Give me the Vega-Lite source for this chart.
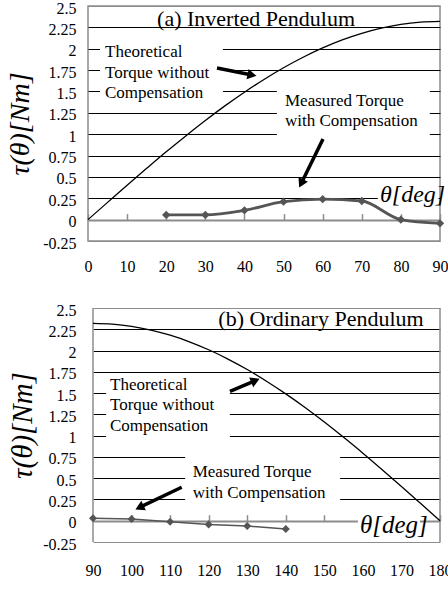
{
  "$schema": "https://vega.github.io/schema/vega-lite/v6.json",
  "padding": {"left": 5, "top": -1, "right": 0, "bottom": 0},
  "spacing": 26,
  "columns": 1,
  "datasets": {
    "theoA": [
      {"theta": 0, "torque": 0}, {"theta": 5, "torque": 0.202}, {"theta": 10, "torque": 0.403},
      {"theta": 15, "torque": 0.6}, {"theta": 20, "torque": 0.794}, {"theta": 25, "torque": 0.98},
      {"theta": 30, "torque": 1.16}, {"theta": 35, "torque": 1.331}, {"theta": 40, "torque": 1.491},
      {"theta": 45, "torque": 1.64}, {"theta": 50, "torque": 1.777}, {"theta": 55, "torque": 1.9},
      {"theta": 60, "torque": 2.009}, {"theta": 65, "torque": 2.103}, {"theta": 70, "torque": 2.18},
      {"theta": 75, "torque": 2.241}, {"theta": 80, "torque": 2.285}, {"theta": 85, "torque": 2.311},
      {"theta": 90, "torque": 2.32}
    ],
    "measA": [
      {"theta": 20, "torque": 0.055}, {"theta": 30, "torque": 0.055}, {"theta": 40, "torque": 0.109},
      {"theta": 50, "torque": 0.21}, {"theta": 60, "torque": 0.24}, {"theta": 70, "torque": 0.218},
      {"theta": 80, "torque": 0.0}, {"theta": 90, "torque": -0.043}
    ],
    "theoB": [
      {"theta": 90, "torque": 2.32}, {"theta": 95, "torque": 2.311}, {"theta": 100, "torque": 2.285},
      {"theta": 105, "torque": 2.241}, {"theta": 110, "torque": 2.18}, {"theta": 115, "torque": 2.103},
      {"theta": 120, "torque": 2.009}, {"theta": 125, "torque": 1.9}, {"theta": 130, "torque": 1.777},
      {"theta": 135, "torque": 1.64}, {"theta": 140, "torque": 1.491}, {"theta": 145, "torque": 1.331},
      {"theta": 150, "torque": 1.16}, {"theta": 155, "torque": 0.98}, {"theta": 160, "torque": 0.794},
      {"theta": 165, "torque": 0.6}, {"theta": 170, "torque": 0.403}, {"theta": 175, "torque": 0.202},
      {"theta": 180, "torque": 0}
    ],
    "measB": [
      {"theta": 90, "torque": 0.03}, {"theta": 100, "torque": 0.02}, {"theta": 110, "torque": -0.012},
      {"theta": 120, "torque": -0.043}, {"theta": 130, "torque": -0.063}, {"theta": 140, "torque": -0.097}
    ]
  },
  "concat": [
    {
      "width": 352,
      "height": 235,
      "layer": [
        {"data": {"values": [{}]}, "mark": {"type": "rect", "fill": "white"},
         "encoding": {"x": {"datum": 3.07}, "x2": {"datum": 34.5}, "y": {"datum": 1.4}, "y2": {"datum": 2.08}}},
        {"data": {"values": [{}]}, "mark": {"type": "rect", "fill": "white"},
         "encoding": {"x": {"datum": 48.3}, "x2": {"datum": 87.4}, "y": {"datum": 0.932}, "y2": {"datum": 1.587}}},
        {"data": {"values": [{}]}, "mark": {"type": "rect", "fill": "white"},
         "encoding": {"x": {"datum": 74.1}, "x2": {"datum": 89.6}, "y": {"datum": 0.101}, "y2": {"datum": 0.382}}},
        {
          "data": {"name": "theoA"},
          "mark": {"type": "line", "color": "black", "strokeWidth": 1.3, "interpolate": "monotone"},
          "encoding": {
            "x": {"field": "theta", "type": "quantitative",
                  "scale": {"domain": [0, 90], "nice": false, "zero": false},
                  "axis": {"values": [0, 10, 20, 30, 40, 50, 60, 70, 80, 90], "tickCount": 50, "labelExpr": "'' + datum.value", "title": null,
                           "domain": false, "grid": false, "ticks": true, "tickSize": -6, "tickColor": "#8c8c8c", "tickWidth": 1.5,
                           "offset": -21.36, "labelPadding": 45, "labelFontSize": 16, "labelFlush": false, "labelOverlap": false}},
            "y": {"field": "torque", "type": "quantitative",
                  "scale": {"domain": [-0.25, 2.5], "nice": false, "zero": false},
                  "axis": {"values": [-0.25, 0, 0.25, 0.5, 0.75, 1, 1.25, 1.5, 1.75, 2, 2.25, 2.5], "tickCount": 50, "labelExpr": "'' + datum.value",
                           "title": "τ(θ)[Nm]", "domain": false, "ticks": false, "labelPadding": 12, "grid": true, "labelOverlap": false, "labelOffset": 2,
                           "gridColor": {"condition": {"test": "datum.value === 0 || datum.value === -0.25 || datum.value === 2.5", "value": "#8c8c8c"}, "value": "black"},
                           "gridWidth": {"condition": {"test": "datum.value === 0", "value": 2}, "value": 1},
                           "titleFontSize": 28, "titleFontStyle": "italic", "titleFontWeight": "normal", "titlePadding": 8, "labelFontSize": 16}}
          }
        },
        {
          "data": {"name": "measA"},
          "mark": {"type": "line", "color": "#555555", "strokeWidth": 2.8, "interpolate": "monotone"},
          "encoding": {"x": {"field": "theta", "type": "quantitative"}, "y": {"field": "torque", "type": "quantitative"}}
        },
        {
          "data": {"name": "measA"},
          "mark": {"type": "point", "shape": "diamond", "filled": true, "color": "#555555", "size": 70, "opacity": 1},
          "encoding": {"x": {"field": "theta", "type": "quantitative"}, "y": {"field": "torque", "type": "quantitative"}}
        },
        {"data": {"values": [{}]}, "mark": {"type": "text", "fontSize": 22, "align": "center", "baseline": "alphabetic"},
         "encoding": {"x": {"datum": 42.96}, "y": {"datum": 2.266}, "text": {"value": "(a) Inverted Pendulum"}}},
        {"data": {"values": [{}]}, "mark": {"type": "text", "fontSize": 17, "align": "left", "baseline": "alphabetic", "lineHeight": 20.5},
         "encoding": {"x": {"datum": 4.35}, "y": {"datum": 1.903}, "text": {"value": ["Theoretical", "Torque without", "Compensation"]}}},
        {"data": {"values": [{}]}, "mark": {"type": "text", "fontSize": 17, "align": "left", "baseline": "alphabetic", "lineHeight": 20},
         "encoding": {"x": {"datum": 50.37}, "y": {"datum": 1.33}, "text": {"value": ["Measured Torque", "with Compensation"]}}},
        {"data": {"values": [{}]}, "mark": {"type": "text", "fontSize": 24, "fontStyle": "italic", "align": "left", "baseline": "alphabetic"},
         "encoding": {"x": {"datum": 74.66}, "y": {"datum": 0.206}, "text": {"value": "θ[deg]"}}},
        {"data": {"values": [{}]}, "mark": {"type": "rule", "color": "black", "strokeWidth": 3.5},
         "encoding": {"x": {"datum": 32.98}, "y": {"datum": 1.774}, "x2": {"datum": 41.93}, "y2": {"datum": 1.693}}},
        {"data": {"values": [{}]}, "mark": {"type": "point", "shape": "triangle-up", "filled": true, "color": "black", "opacity": 1, "size": 110, "angle": 101.3},
         "encoding": {"x": {"datum": 41.93}, "y": {"datum": 1.693}}},
        {"data": {"values": [{}]}, "mark": {"type": "rule", "color": "black", "strokeWidth": 3.5},
         "encoding": {"x": {"datum": 60.09}, "y": {"datum": 0.944}, "x2": {"datum": 54.51}, "y2": {"datum": 0.423}}},
        {"data": {"values": [{}]}, "mark": {"type": "point", "shape": "triangle-up", "filled": true, "color": "black", "opacity": 1, "size": 110, "angle": 206.1},
         "encoding": {"x": {"datum": 54.51}, "y": {"datum": 0.423}}}
      ]
    },
    {
      "width": 352,
      "height": 234,
      "view": {"stroke": null},
      "layer": [
        {"data": {"values": [{}]}, "mark": {"type": "rect", "fill": "white"},
         "encoding": {"x": {"datum": 88.6}, "x2": {"datum": 90}, "y": {"datum": -0.27}, "y2": {"datum": 2.52}}},
        {"data": {"values": [{}]}, "mark": {"type": "rect", "fill": "white"},
         "encoding": {"x": {"datum": 93.4}, "x2": {"datum": 125.5}, "y": {"datum": 0.913}, "y2": {"datum": 1.7}}},
        {"data": {"values": [{}]}, "mark": {"type": "rect", "fill": "white"},
         "encoding": {"x": {"datum": 113.9}, "x2": {"datum": 154.1}, "y": {"datum": 0.149}, "y2": {"datum": 0.855}}},
        {"data": {"values": [{}]}, "mark": {"type": "rect", "fill": "white"},
         "encoding": {"x": {"datum": 158.7}, "x2": {"datum": 174.8}, "y": {"datum": -0.24}, "y2": {"datum": 0.149}}},
        {"data": {"values": [{}]}, "mark": {"type": "rule", "color": "#8c8c8c", "strokeWidth": 1.5},
         "encoding": {"x": {"datum": 90}, "y": {"datum": -0.25}, "y2": {"datum": 2.5}}},
        {"data": {"values": [{}]}, "mark": {"type": "rule", "color": "#8c8c8c", "strokeWidth": 1.5},
         "encoding": {"x": {"datum": 180}, "y": {"datum": -0.25}, "y2": {"datum": 2.5}}},
        {
          "data": {"name": "theoB"},
          "mark": {"type": "line", "color": "black", "strokeWidth": 1.3, "interpolate": "monotone"},
          "encoding": {
            "x": {"field": "theta", "type": "quantitative",
                  "scale": {"domain": [90, 180], "nice": false, "zero": false, "range": [5, 352]},
                  "axis": {"values": [90, 100, 110, 120, 130, 140, 150, 160, 170, 180], "tickCount": 50, "labelExpr": "'' + datum.value", "title": null,
                           "domain": false, "grid": false, "ticks": true, "tickSize": -6, "tickColor": "#8c8c8c", "tickWidth": 1.5,
                           "offset": -21.27, "labelPadding": 48, "labelFontSize": 16, "labelFlush": false, "labelOverlap": false}},
            "y": {"field": "torque", "type": "quantitative",
                  "scale": {"domain": [-0.25, 2.5], "nice": false, "zero": false},
                  "axis": {"values": [-0.25, 0, 0.25, 0.5, 0.75, 1, 1.25, 1.5, 1.75, 2, 2.25, 2.5], "tickCount": 50, "labelExpr": "'' + datum.value",
                           "title": "τ(θ)[Nm]", "domain": false, "ticks": false, "labelPadding": 12, "grid": true, "labelOverlap": false, "labelOffset": 2,
                           "gridColor": {"condition": {"test": "datum.value === 0 || datum.value === -0.25 || datum.value === 2.5", "value": "#8c8c8c"}, "value": "black"},
                           "gridWidth": {"condition": {"test": "datum.value === 0", "value": 2}, "value": 1},
                           "titleFontSize": 29, "titleFontStyle": "italic", "titleFontWeight": "normal", "titlePadding": 5, "labelFontSize": 16}}
          }
        },
        {
          "data": {"name": "measB"},
          "mark": {"type": "line", "color": "#555555", "strokeWidth": 1.5},
          "encoding": {"x": {"field": "theta", "type": "quantitative"}, "y": {"field": "torque", "type": "quantitative"}}
        },
        {
          "data": {"name": "measB"},
          "mark": {"type": "point", "shape": "diamond", "filled": true, "color": "#555555", "size": 65, "opacity": 1},
          "encoding": {"x": {"field": "theta", "type": "quantitative"}, "y": {"field": "torque", "type": "quantitative"}}
        },
        {"data": {"values": [{}]}, "mark": {"type": "text", "fontSize": 22, "align": "center", "baseline": "alphabetic"},
         "encoding": {"x": {"datum": 149.13}, "y": {"datum": 2.285}, "text": {"value": "(b) Ordinary Pendulum"}}},
        {"data": {"values": [{}]}, "mark": {"type": "text", "fontSize": 17, "align": "left", "baseline": "alphabetic", "lineHeight": 20.5},
         "encoding": {"x": {"datum": 94.41}, "y": {"datum": 1.54}, "text": {"value": ["Theoretical", "Torque without", "Compensation"]}}},
        {"data": {"values": [{}]}, "mark": {"type": "text", "fontSize": 17, "align": "left", "baseline": "alphabetic", "lineHeight": 20.7},
         "encoding": {"x": {"datum": 115.86}, "y": {"datum": 0.51}, "text": {"value": ["Measured Torque", "with Compensation"]}}},
        {"data": {"values": [{}]}, "mark": {"type": "text", "fontSize": 25, "fontStyle": "italic", "align": "left", "baseline": "alphabetic"},
         "encoding": {"x": {"datum": 159.24}, "y": {"datum": -0.144}, "text": {"value": "θ[deg]"}}},
        {"data": {"values": [{}]}, "mark": {"type": "rule", "color": "black", "strokeWidth": 3.5},
         "encoding": {"x": {"datum": 125.53}, "y": {"datum": 1.521}, "x2": {"datum": 132.12}, "y2": {"datum": 1.647}}},
        {"data": {"values": [{}]}, "mark": {"type": "point", "shape": "triangle-up", "filled": true, "color": "black", "opacity": 1, "size": 110, "angle": 67.2},
         "encoding": {"x": {"datum": 132.12}, "y": {"datum": 1.647}}},
        {"data": {"values": [{}]}, "mark": {"type": "rule", "color": "black", "strokeWidth": 3.5},
         "encoding": {"x": {"datum": 113.0}, "y": {"datum": 0.393}, "x2": {"datum": 102.06}, "y2": {"datum": 0.156}}},
        {"data": {"values": [{}]}, "mark": {"type": "point", "shape": "triangle-up", "filled": true, "color": "black", "opacity": 1, "size": 110, "angle": 244.4},
         "encoding": {"x": {"datum": 102.06}, "y": {"datum": 0.156}}}
      ]
    }
  ],
  "config": {
    "font": "Liberation Serif",
    "view": {"stroke": "#8c8c8c", "strokeWidth": 1.5},
    "axis": {"labelFont": "Liberation Serif", "titleFont": "Liberation Serif", "labelColor": "black", "titleColor": "black"},
    "text": {"font": "Liberation Serif", "color": "black"}
  }
}
